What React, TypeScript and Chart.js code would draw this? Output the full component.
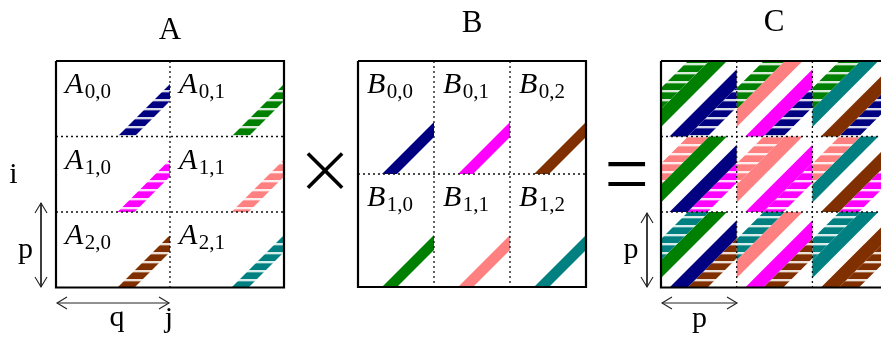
import { useEffect, useRef } from 'react';
import { Chart, registerables } from 'chart.js';

Chart.register(...registerables);

const W = 881;
const H = 342;

// ---------- data ----------
const TITLES = ['A', 'B', 'C'];
const NAVY = '#000080', GREEN = '#008000', MAGENTA = '#ff00ff', SALMON = '#ff8080', BROWN = '#803000', TEAL = '#008080';
// colour of block A[i][k]
const A_COLORS = [[NAVY, GREEN], [MAGENTA, SALMON], [BROWN, TEAL]];
// colour of block B[k][j]
const B_COLORS = [[NAVY, MAGENTA, BROWN], [GREEN, SALMON, TEAL]];
// diagonal band ranges (u = dx + dy from the cell's top-left corner)
const A_BAND = [137, 154];
const B_BAND = [137, 152];
// C[i][j] bands: A[i][1] hatched, B[1][j] solid, B[0][j] solid, A[i][0] hatched
const C_BAND_SRC = ['A', 'B', 'B', 'A'];
const C_BAND_K = [1, 1, 0, 0];
const C_BAND_U = [[27, 48], [48, 66], [84, 102], [102, 122]];
const AXIS_LABELS = ['i', 'p', 'q', 'j', 'p', 'p'];
const OPERATORS = ['×', '='];

// ---------- layout ----------
const BOX = {
  A: { x: 56, y: 61, colW: 114, rowH: 75.5, nCols: 2, nRows: 3 },
  B: { x: 358, y: 61, colW: 76, rowH: 113, nCols: 3, nRows: 2 },
  C: { x: 661, y: 61, colW: 75.7, rowH: 75.5, nCols: 3, nRows: 3 },
};
const TITLE_POS = [[170, 39], [472, 32], [774, 31]];
const AXIS_LABEL_POS = [[13.5, 183], [25.5, 258], [117, 326], [169, 327], [631, 258], [699.5, 327]];
const OPERATOR_BOX = [[325, 170.5, 37.5], [627, 174.2, 37.4]]; // cx, cy, width
const LABEL_DX = 9, LABEL_DY = 32, SUB_DY = 5;
const ARROWS = [
  { x1: 57, y1: 303, x2: 169, y2: 303 },
  { x1: 41, y1: 203, x2: 41, y2: 287 },
  { x1: 647, y1: 213, x2: 647, y2: 287 },
  { x1: 662, y1: 303, x2: 737, y2: 303 },
];

const patternCache: Record<string, CanvasPattern> = {};
function hatch(color: string): CanvasPattern | string {
  if (patternCache[color]) return patternCache[color];
  const c = document.createElement('canvas');
  c.width = 16;
  c.height = 9;
  const g = c.getContext('2d');
  if (!g) return color;
  g.fillStyle = color;
  g.fillRect(0, 0, 16, 9);
  g.fillStyle = 'rgba(255,255,255,0.85)';
  g.fillRect(0, 0, 16, 2);
  g.fillStyle = 'rgba(255,255,255,0.3)';
  g.fillRect(0, 2, 16, 1);
  const p = g.createPattern(c, 'repeat') as CanvasPattern;
  patternCache[color] = p;
  return p;
}

function band(x0: number, y0: number, w: number, h: number, u: number[], color: any) {
  const uc = (u[0] + u[1]) / 2;
  const m = 25;
  return {
    data: [
      { x: x0 - m, y: y0 + uc + m },
      { x: x0 + uc + m, y: y0 - m },
    ],
    showLine: true,
    borderColor: color,
    backgroundColor: 'transparent',
    borderWidth: (u[1] - u[0]) / Math.SQRT2,
    borderCapStyle: 'butt',
    pointRadius: 0,
    clip: { left: -x0, top: -y0, right: -(W - (x0 + w)), bottom: -(H - (y0 + h)) },
    order: 5,
  };
}

function line(pts: number[][], opts: any = {}) {
  return {
    data: pts.map(([x, y]) => ({ x, y })),
    showLine: true,
    borderColor: '#000',
    borderWidth: 1,
    pointRadius: 0,
    clip: false,
    order: 1,
    ...opts,
  };
}

function buildDatasets() {
  const ds: any[] = [];
  const a = BOX.A;
  for (let i = 0; i < a.nRows; i++)
    for (let k = 0; k < a.nCols; k++)
      ds.push(band(a.x + k * a.colW, a.y + i * a.rowH, a.colW, a.rowH, A_BAND, hatch(A_COLORS[i][k])));
  const b = BOX.B;
  for (let k = 0; k < b.nRows; k++)
    for (let j = 0; j < b.nCols; j++)
      ds.push(band(b.x + j * b.colW, b.y + k * b.rowH, b.colW, b.rowH, B_BAND, B_COLORS[k][j]));
  const c = BOX.C;
  for (let i = 0; i < c.nRows; i++)
    for (let j = 0; j < c.nCols; j++)
      for (let n = 0; n < C_BAND_U.length; n++) {
        const k = C_BAND_K[n];
        const col = C_BAND_SRC[n] === 'A' ? hatch(A_COLORS[i][k]) : B_COLORS[k][j];
        ds.push(band(c.x + j * c.colW, c.y + i * c.rowH, c.colW, c.rowH, C_BAND_U[n], col));
      }
  for (const key of ['A', 'B', 'C'] as const) {
    const bx = BOX[key];
    const x1 = bx.x + bx.nCols * bx.colW;
    const y1 = bx.y + bx.nRows * bx.rowH;
    for (let j = 1; j < bx.nCols; j++) {
      const x = bx.x + j * bx.colW;
      ds.push(line([[x, bx.y], [x, y1]], { borderDash: [2, 3], borderWidth: 1.3, borderColor: '#111', order: 2 }));
    }
    for (let i = 1; i < bx.nRows; i++) {
      const y = bx.y + i * bx.rowH;
      ds.push(line([[bx.x, y], [x1, y]], { borderDash: [2, 3], borderWidth: 1.3, borderColor: '#111', order: 2 }));
    }
    ds.push(
      line(
        [[bx.x, bx.y], [x1, bx.y], [x1, y1], [bx.x, y1], [bx.x, bx.y]],
        { borderWidth: 2.2, borderJoinStyle: 'miter', order: 0 }
      )
    );
  }
  const HL = 10, HW = 6;
  for (const ar of ARROWS) {
    ds.push(line([[ar.x1, ar.y1], [ar.x2, ar.y2]], { borderColor: '#222' }));
    const dx = ar.x2 - ar.x1, dy = ar.y2 - ar.y1;
    const len = Math.hypot(dx, dy);
    const ux = dx / len, uy = dy / len;
    const px = -uy, py = ux;
    for (const [tx, ty, s] of [[ar.x2, ar.y2, 1], [ar.x1, ar.y1, -1]]) {
      ds.push(
        line(
          [
            [tx - s * ux * HL + px * HW, ty - s * uy * HL + py * HW],
            [tx, ty],
            [tx - s * ux * HL - px * HW, ty - s * uy * HL - py * HW],
          ],
          { borderColor: '#222', borderWidth: 1.1, borderJoinStyle: 'miter' }
        )
      );
    }
  }
  return ds;
}

const SERIF = "'Liberation Serif', 'Times New Roman', serif";
const THIN = "Inter, Lato, 'DejaVu Sans', sans-serif";

const textPlugin = {
  id: 'diagramText',
  afterDatasetsDraw(chart: any) {
    const { ctx } = chart;
    const sx = chart.scales.x, sy = chart.scales.y;
    const X = (v: number) => sx.getPixelForValue(v);
    const Y = (v: number) => sy.getPixelForValue(v);
    ctx.save();
    ctx.fillStyle = '#000';
    ctx.textBaseline = 'alphabetic';
    ctx.font = `31px ${SERIF}`;
    ctx.textAlign = 'center';
    TITLES.forEach((t, i) => ctx.fillText(t, X(TITLE_POS[i][0]), Y(TITLE_POS[i][1])));
    const cellLabel = (letter: string, r: number, c: number, x: number, y: number) => {
      ctx.textAlign = 'left';
      ctx.font = `italic 30px ${SERIF}`;
      const lw = ctx.measureText(letter).width;
      ctx.fillText(letter, X(x + LABEL_DX), Y(y + LABEL_DY));
      ctx.font = `21px ${SERIF}`;
      ctx.fillText(`${r},${c}`, X(x + LABEL_DX) + lw + 1.5, Y(y + LABEL_DY + SUB_DY));
    };
    const a = BOX.A;
    for (let i = 0; i < a.nRows; i++)
      for (let k = 0; k < a.nCols; k++) cellLabel('A', i, k, a.x + k * a.colW, a.y + i * a.rowH);
    const b = BOX.B;
    for (let k = 0; k < b.nRows; k++)
      for (let j = 0; j < b.nCols; j++) cellLabel('B', k, j, b.x + j * b.colW, b.y + k * b.rowH);
    ctx.textAlign = 'center';
    ctx.font = `30px ${SERIF}`;
    AXIS_LABELS.forEach((t, i) => ctx.fillText(t, X(AXIS_LABEL_POS[i][0]), Y(AXIS_LABEL_POS[i][1])));
    OPERATORS.forEach((t, i) => {
      const [cx, cy, w] = OPERATOR_BOX[i];
      ctx.textAlign = 'left';
      ctx.font = `200 100px ${THIN}`;
      let m = ctx.measureText(t);
      const size = (100 * w) / (m.actualBoundingBoxLeft + m.actualBoundingBoxRight);
      ctx.font = `200 ${size}px ${THIN}`;
      m = ctx.measureText(t);
      const gx = X(cx) - (m.actualBoundingBoxRight - m.actualBoundingBoxLeft) / 2;
      const gy = Y(cy) + (m.actualBoundingBoxAscent - m.actualBoundingBoxDescent) / 2;
      ctx.fillText(t, gx, gy);
    });
    ctx.restore();
  },
};

export default function App() {
  const ref = useRef<HTMLCanvasElement>(null);
  useEffect(() => {
    if (!ref.current) return;
    const chart = new Chart(ref.current, {
      type: 'scatter',
      data: { datasets: buildDatasets() },
      options: {
        animation: false,
        responsive: false,
        events: [],
        layout: { padding: 0 },
        plugins: { legend: { display: false }, tooltip: { enabled: false }, title: { display: false } },
        elements: { line: { tension: 0 }, point: { radius: 0 } },
        scales: {
          x: { type: 'linear', min: 0, max: W, display: false },
          y: { type: 'linear', min: 0, max: H, reverse: true, display: false },
        },
      } as any,
      plugins: [textPlugin],
    });
    return () => chart.destroy();
  }, []);
  return (
    <div style={{ position: 'fixed', left: 0, top: 0, width: W, height: H, background: '#fff', overflow: 'hidden' }}>
      <canvas ref={ref} width={W} height={H} style={{ display: 'block' }} />
    </div>
  );
}
